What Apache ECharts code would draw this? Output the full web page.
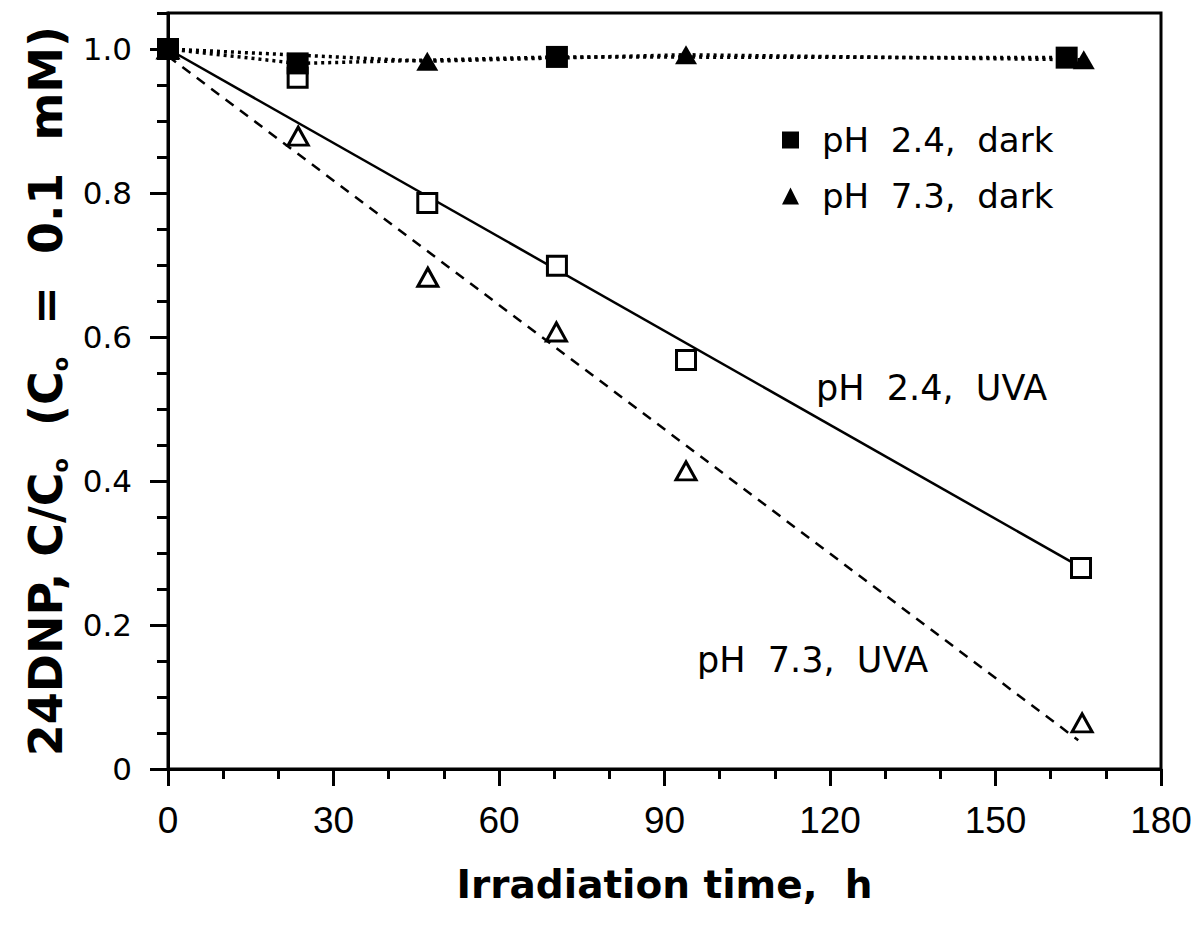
<!DOCTYPE html>
<html><head><meta charset="utf-8">
<script src="https://cdn.jsdelivr.net/npm/echarts@6/dist/echarts.min.js"></script>
<style>html,body{margin:0;padding:0;background:#fff}#c{width:1201px;height:929px}</style>
</head><body><div id="c"></div>
<script>
// ---- data ----
const xTickLabels = ['0', '30', '60', '90', '120', '150', '180'];
const yTickLabels = ['0', '0.2', '0.4', '0.6', '0.8', '1.0'];

const dark24Time = [0, 23.5, 70.5, 162.9];
const dark24Val  = [1.0, 0.980, 0.989, 0.988];
const dark73Time = [0, 47.0, 93.9, 166.0];
const dark73Val  = [1.0, 0.983, 0.992, 0.985];

const uva24Time = [0, 23.5, 47.0, 70.5, 93.9, 165.5];
const uva24Val  = [1.0, 0.960, 0.786, 0.699, 0.568, 0.279];
const uva73Time = [0, 23.6, 47.1, 70.4, 93.9, 165.7];
const uva73Val  = [1.0, 0.879, 0.683, 0.607, 0.414, 0.064];

const fit24Time = [0, 165.5];
const fit24Val  = [1.0, 0.280];
const fit73Time = [0, 165.0];
const fit73Val  = [0.990, 0.040];

const nameDark24 = 'pH  2.4,  dark';
const nameDark73 = 'pH  7.3,  dark';
const labelUva24 = 'pH  2.4,  UVA';
const labelUva73 = 'pH  7.3,  UVA';

// ---- build ----
const zip = (t, v) => t.map((x, i) => [x, v[i]]);
const SANS = '"DejaVu Sans", sans-serif';

const chart = echarts.init(document.getElementById('c'), null, {renderer: 'svg'});

const yFmt = v => {
  const k = v / 0.2, r = Math.round(k);
  return Math.abs(k - r) < 1e-6 && yTickLabels[r] !== undefined ? yTickLabels[r] : '';
};
const xFmt = v => {
  const k = v / 30, r = Math.round(k);
  return Math.abs(k - r) < 1e-6 && xTickLabels[r] !== undefined ? xTickLabels[r] : '';
};

const option = {
  animation: false,
  backgroundColor: '#fff',
  grid: {left: 168, right: 40, top: 13, bottom: 160, containLabel: false, outerBoundsMode: 'none',
         show: true, borderColor: '#000', borderWidth: 3, backgroundColor: 'transparent'},
  legend: {
    orient: 'vertical', left: 777, top: 118,
    itemWidth: 17, itemHeight: 17, itemGap: 22,
    selectedMode: false,
    textStyle: {fontFamily: SANS, fontSize: 34, lineHeight: 30, color: '#000', padding: [0, 0, 0, 18]},
    data: [{name: nameDark24, icon: 'rect'}, {name: nameDark73, icon: 'triangle'}]
  },
  xAxis: [{
    type: 'value', min: 0, max: 180, interval: 30,
    name: 'Irradiation time,  h', nameLocation: 'middle', nameGap: 96,
    nameTextStyle: {fontFamily: SANS, fontWeight: 'bold', fontSize: 39, color: '#000'},
    axisLine: {show: true, onZero: false, lineStyle: {color: '#000', width: 3}},
    axisTick: {show: true, inside: false, length: 17, lineStyle: {color: '#000', width: 3}},
    axisLabel: {margin: 33, formatter: xFmt, fontFamily: '"Liberation Sans", Arial, sans-serif', fontSize: 37, color: '#000'},
    splitLine: {show: false}
  }, {
    type: 'value', min: 0, max: 180, interval: 10, position: 'bottom',
    axisLine: {show: false},
    axisTick: {show: true, inside: false, length: 10, lineStyle: {color: '#000', width: 3}},
    axisLabel: {show: false}, splitLine: {show: false}
  }],
  yAxis: [{
    type: 'value', min: 0, max: 1.05, interval: 0.2,
    name: '24DNP, C/C{s|o}  (C{s|o}  =  0.1  mM)', nameLocation: 'middle', nameGap: 90,
    nameTextStyle: {
      fontFamily: SANS, fontWeight: 'bold', fontSize: 46, lineHeight: 52, color: '#000',
      rich: {s: {fontFamily: SANS, fontWeight: 'bold', fontSize: 21, lineHeight: 21, verticalAlign: 'bottom', color: '#000'}}
    },
    axisLine: {show: true, onZero: false, lineStyle: {color: '#000', width: 3}},
    axisTick: {show: true, inside: false, length: 18, lineStyle: {color: '#000', width: 3}},
    axisLabel: {margin: 36, formatter: yFmt, fontFamily: SANS, fontSize: 31, color: '#000', showMaxLabel: false},
    splitLine: {show: false}
  }, {
    type: 'value', min: 0, max: 1.05, interval: 0.05, position: 'left',
    axisLine: {show: false},
    axisTick: {show: true, inside: false, length: 11, lineStyle: {color: '#000', width: 3}},
    axisLabel: {show: false}, splitLine: {show: false}
  }],
  series: [
    {name: 'fit 2.4', type: 'line', data: zip(fit24Time, fit24Val), symbol: 'none', z: 1,
     lineStyle: {color: '#000', width: 2.5, type: 'solid'}},
    {name: 'fit 7.3', type: 'line', data: zip(fit73Time, fit73Val), symbol: 'none', z: 1,
     lineStyle: {color: '#000', width: 2.5, type: [10, 8]}},
    {name: labelUva24, type: 'scatter', data: zip(uva24Time, uva24Val), symbol: 'rect', symbolSize: 19, z: 2,
     itemStyle: {color: '#fff', borderColor: '#000', borderWidth: 3, opacity: 1}},
    {name: labelUva73, type: 'scatter', data: zip(uva73Time, uva73Val), symbol: 'triangle', symbolSize: [20, 18], z: 2,
     itemStyle: {color: '#fff', borderColor: '#000', borderWidth: 3, opacity: 1}},
    {name: nameDark24, type: 'line', data: zip(dark24Time, dark24Val), symbol: 'rect', symbolSize: 22, showAllSymbol: true, z: 3,
     itemStyle: {color: '#000', opacity: 1}, lineStyle: {color: '#000', width: 3.5, type: [3, 4]}},
    {name: nameDark73, type: 'line', data: zip(dark73Time, dark73Val), symbol: 'triangle', symbolSize: [22, 19], showAllSymbol: true, z: 3,
     itemStyle: {color: '#000', opacity: 1}, lineStyle: {color: '#000', width: 3.5, type: [3, 4]}}
  ],
  graphic: [
    {type: 'text', x: 816, y: 388, silent: true,
     style: {text: labelUva24, fontFamily: SANS, fontSize: 35, fill: '#000', verticalAlign: 'middle'}},
    {type: 'text', x: 697, y: 660, silent: true,
     style: {text: labelUva73, fontFamily: SANS, fontSize: 35, fill: '#000', verticalAlign: 'middle'}}
  ]
};
chart.setOption(option);
</script>
</body></html>
